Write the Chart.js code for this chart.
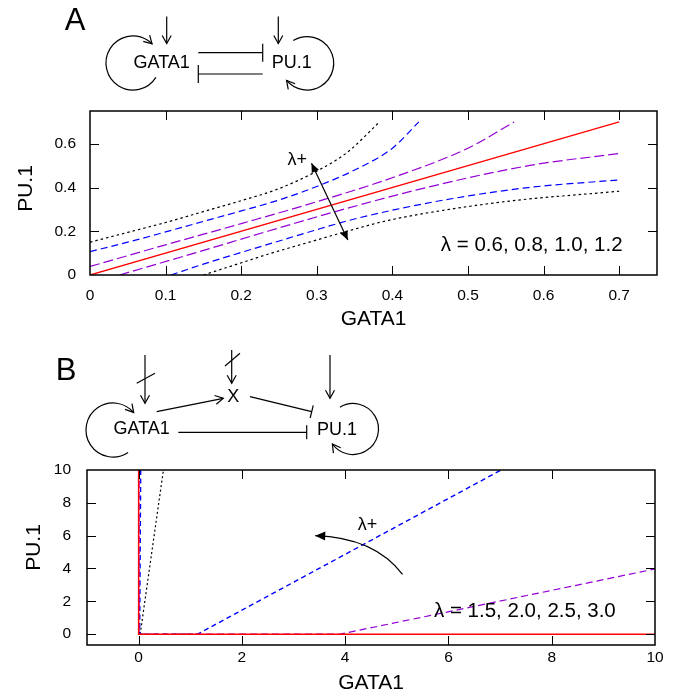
<!DOCTYPE html>
<html><head><meta charset="utf-8">
<script src="https://cdn.jsdelivr.net/npm/chart.js@4/dist/chart.umd.min.js"></script>
<style>
html,body{margin:0;padding:0;background:#fff;}
#wrap{position:relative;width:681px;height:696px;overflow:hidden;background:#fff;}
canvas{position:absolute;left:0;}
#ca{top:0;}
#cb{top:340px;}
</style></head><body>
<div id="wrap"><canvas id="ca" width="681" height="340"></canvas><canvas id="cb" width="681" height="356"></canvas></div>
<script>
// ---- Panel A: GATA1 / PU.1 curves for lambda = 0.6, 0.8, 1.0, 1.2 ----
const A_X_TICKS = [0, 0.1, 0.2, 0.3, 0.4, 0.5, 0.6, 0.7];
const A_Y_TICKS = [0, 0.2, 0.4, 0.6];

const A_RED_X = [0, 0.7];
const A_RED_Y = [0, 0.7];

const A_PURPLE_UP_X = [0, 0.1, 0.2, 0.3, 0.4, 0.5, 0.561];
const A_PURPLE_UP_Y = [0.039, 0.138, 0.235, 0.335, 0.445, 0.58, 0.70];
const A_PURPLE_LO_X = [0.039, 0.138, 0.235, 0.335, 0.445, 0.58, 0.70];
const A_PURPLE_LO_Y = [0, 0.1, 0.2, 0.3, 0.4, 0.5, 0.556];

const A_BLUE_UP_X = [0, 0.05, 0.1, 0.15, 0.2, 0.25, 0.3, 0.35, 0.4, 0.435];
const A_BLUE_UP_Y = [0.107, 0.15, 0.197, 0.245, 0.293, 0.343, 0.405, 0.48, 0.58, 0.70];
const A_BLUE_LO_X = [0.107, 0.15, 0.197, 0.245, 0.293, 0.343, 0.405, 0.48, 0.58, 0.70];
const A_BLUE_LO_Y = [0, 0.05, 0.1, 0.15, 0.2, 0.25, 0.3, 0.35, 0.4, 0.435];

const A_BLACK_UP_X = [0, 0.05, 0.1, 0.15, 0.2, 0.25, 0.3, 0.34, 0.383];
const A_BLACK_UP_Y = [0.15, 0.195, 0.24, 0.29, 0.34, 0.395, 0.475, 0.56, 0.70];
const A_BLACK_LO_X = [0.15, 0.195, 0.24, 0.29, 0.34, 0.395, 0.475, 0.56, 0.70];
const A_BLACK_LO_Y = [0, 0.05, 0.1, 0.15, 0.2, 0.25, 0.3, 0.34, 0.383];

// ---- Panel B: curves for lambda = 1.5, 2.0, 2.5, 3.0 ----
const B_X_TICKS = [0, 2, 4, 6, 8, 10];
const B_Y_TICKS = [0, 2, 4, 6, 8, 10];

const B_RED_X = [0, 0, 10];
const B_RED_Y = [10, 0, 0];
const B_PURPLE_X = [0.01, 0.01, 3.9, 10];
const B_PURPLE_Y = [10, 0, 0, 3.97];
const B_BLUE_X = [0.04, 0.02, 1.14, 7.02];
const B_BLUE_Y = [10, 0, 0, 10];
const B_BLACK_X = [0.03, 0.48];
const B_BLACK_Y = [0, 10];

const FONT = "'Liberation Sans', Arial, Helvetica, sans-serif";
const pts = (xs, ys) => xs.map((v, i) => ({x: v, y: ys[i]}));
const setTicks = arr => s => { s.ticks = arr.map(v => ({value: v})); };

function head(ctx, tx, ty, ang, len, hw, filled) {
  const bx = tx - len * Math.cos(ang), by = ty - len * Math.sin(ang);
  const nx = -Math.sin(ang) * hw, ny = Math.cos(ang) * hw;
  ctx.beginPath();
  if (filled) {
    ctx.moveTo(tx, ty); ctx.lineTo(bx + nx, by + ny); ctx.lineTo(bx - nx, by - ny);
    ctx.closePath(); ctx.fill();
  } else {
    ctx.moveTo(bx + nx, by + ny); ctx.lineTo(tx, ty); ctx.lineTo(bx - nx, by - ny);
    ctx.stroke();
  }
}
function seg(ctx, x1, y1, x2, y2) {
  ctx.beginPath(); ctx.moveTo(x1, y1); ctx.lineTo(x2, y2); ctx.stroke();
}
function arrow(ctx, x1, y1, x2, y2) {
  seg(ctx, x1, y1, x2, y2);
  head(ctx, x2, y2, Math.atan2(y2 - y1, x2 - x1), 8, 4.5, false);
}
function inhibit(ctx, x1, y1, x2, y2, half) {
  seg(ctx, x1, y1, x2, y2);
  const a = Math.atan2(y2 - y1, x2 - x1);
  const nx = -Math.sin(a) * half, ny = Math.cos(a) * half;
  seg(ctx, x2 + nx, y2 + ny, x2 - nx, y2 - ny);
}
function loop(ctx, cx, cy, r, d0, d1) {
  const a0 = d0 * Math.PI / 180, a1 = d1 * Math.PI / 180;
  ctx.beginPath(); ctx.arc(cx, cy, r, a0, a1, false); ctx.stroke();
  head(ctx, cx + r * Math.cos(a1), cy + r * Math.sin(a1), a1 + Math.PI / 2, 8, 4.5, false);
}
function label(ctx, txt, x, y, size, align) {
  ctx.font = size + 'px ' + FONT;
  ctx.textAlign = align || 'center';
  ctx.textBaseline = 'middle';
  ctx.fillText(txt, x, y);
}
function vlabel(ctx, txt, x, y, size) {
  ctx.save();
  ctx.translate(x, y);
  ctx.rotate(-Math.PI / 2);
  label(ctx, txt, 0, 0, size);
  ctx.restore();
}

// frame with inward ticks on all four sides
const frame = {
  id: 'frame',
  afterDatasetsDraw(chart) {
    const {ctx, chartArea: a, scales: {x, y}} = chart;
    const L = 9;
    ctx.save();
    ctx.strokeStyle = '#000';
    ctx.lineWidth = 1;
    ctx.beginPath();
    x.ticks.forEach(t => {
      const p = Math.round(x.getPixelForValue(t.value)) + 0.5;
      if (p > a.left + 2 && p < a.right - 2) {
        ctx.moveTo(p, a.bottom); ctx.lineTo(p, a.bottom - L);
        ctx.moveTo(p, a.top); ctx.lineTo(p, a.top + L);
      }
    });
    y.ticks.forEach(t => {
      const p = Math.round(y.getPixelForValue(t.value)) + 0.5;
      if (p > a.top + 2 && p < a.bottom - 2) {
        ctx.moveTo(a.left, p); ctx.lineTo(a.left + L, p);
        ctx.moveTo(a.right, p); ctx.lineTo(a.right - L, p);
      }
    });
    ctx.stroke();
    ctx.lineWidth = 1.5;
    ctx.strokeRect(a.left, a.top, a.right - a.left, a.bottom - a.top);
    ctx.restore();
  }
};

const lineDefaults = {showLine: true, pointRadius: 0, fill: false, borderWidth: 1.2};

function axisCfg(min, max, tickArr, size, tickPad, title, titlePad) {
  return {
    type: 'linear', min: min, max: max,
    afterBuildTicks: setTicks(tickArr),
    afterFit: s => { if (s.isHorizontal()) s.height = size; else s.width = size; },
    grid: {display: false, drawTicks: false}, border: {display: false},
    ticks: {padding: tickPad, color: '#000', autoSkip: false, maxRotation: 0,
            font: {family: FONT, size: 15.5}, callback: v => String(v)},
    title: {display: !!title, text: title || '', color: '#000', font: {family: FONT, size: 21}, padding: titlePad}
  };
}

// ---- chart A ----
const annotA = {
  id: 'annotA',
  afterDatasetsDraw(chart) {
    const {ctx, scales: {x, y}} = chart;
    ctx.save();
    ctx.fillStyle = '#000'; ctx.strokeStyle = '#000'; ctx.lineWidth = 1.2;
    vlabel(ctx, 'PU.1', 26.7, 188.5, 21);
    // double arrow
    const x1 = x.getPixelForValue(0.293), y1 = y.getPixelForValue(0.511);
    const x2 = x.getPixelForValue(0.341), y2 = y.getPixelForValue(0.160);
    seg(ctx, x1, y1, x2, y2);
    head(ctx, x1, y1, Math.atan2(y1 - y2, x1 - x2), 9, 4, true);
    head(ctx, x2, y2, Math.atan2(y2 - y1, x2 - x1), 9, 4, true);
    label(ctx, 'λ+', x.getPixelForValue(0.274), y.getPixelForValue(0.528), 18);
    label(ctx, 'λ = 0.6, 0.8, 1.0, 1.2', x.getPixelForValue(0.464), y.getPixelForValue(0.134), 20.5, 'left');

    // network diagram
    label(ctx, 'A', 75, 21, 31);
    label(ctx, 'GATA1', 161.7, 63, 18);
    label(ctx, 'PU.1', 291.7, 63.5, 18);
    arrow(ctx, 166.7, 16.5, 166.7, 43.5);
    arrow(ctx, 278.3, 16.5, 278.3, 43.5);
    inhibit(ctx, 198.3, 52.7, 262.7, 52.7, 9);
    inhibit(ctx, 262.7, 74, 198.3, 74, 9);
    loop(ctx, 133, 63, 27, 32, 315);
    loop(ctx, 307, 63.3, 26.7, 239, 500);
    ctx.restore();
  }
};

new Chart(document.getElementById('ca'), {
  type: 'scatter',
  data: {datasets: [
    Object.assign({}, lineDefaults, {data: pts(A_RED_X, A_RED_Y), borderColor: '#ff0000', borderWidth: 1.3}),
    Object.assign({}, lineDefaults, {data: pts(A_PURPLE_UP_X, A_PURPLE_UP_Y), borderColor: '#9400d3', borderDash: [10, 4], cubicInterpolationMode: 'monotone'}),
    Object.assign({}, lineDefaults, {data: pts(A_PURPLE_LO_X, A_PURPLE_LO_Y), borderColor: '#9400d3', borderDash: [10, 4], cubicInterpolationMode: 'monotone'}),
    Object.assign({}, lineDefaults, {data: pts(A_BLUE_UP_X, A_BLUE_UP_Y), borderColor: '#0000ff', borderDash: [7, 4], cubicInterpolationMode: 'monotone'}),
    Object.assign({}, lineDefaults, {data: pts(A_BLUE_LO_X, A_BLUE_LO_Y), borderColor: '#0000ff', borderDash: [7, 4], cubicInterpolationMode: 'monotone'}),
    Object.assign({}, lineDefaults, {data: pts(A_BLACK_UP_X, A_BLACK_UP_Y), borderColor: '#000000', borderDash: [2.5, 3], cubicInterpolationMode: 'monotone'}),
    Object.assign({}, lineDefaults, {data: pts(A_BLACK_LO_X, A_BLACK_LO_Y), borderColor: '#000000', borderDash: [2.5, 3], cubicInterpolationMode: 'monotone'})
  ]},
  options: {
    responsive: false, animation: false, devicePixelRatio: 1, events: [],
    layout: {padding: {top: 111, right: 24, left: 0, bottom: 0}},
    plugins: {legend: {display: false}, tooltip: {enabled: false}},
    scales: {
      x: axisCfg(0, 0.75, A_X_TICKS, 65, 11.7, 'GATA1', {top: 0, bottom: 8}),
      y: axisCfg(0, 0.75, A_Y_TICKS, 90, 14, null, 0)
    }
  },
  plugins: [frame, annotA]
});

// ---- chart B ----
const annotB = {
  id: 'annotB',
  afterDatasetsDraw(chart) {
    const {ctx, scales: {x, y}} = chart;
    ctx.save();
    ctx.fillStyle = '#000'; ctx.strokeStyle = '#000'; ctx.lineWidth = 1.2;
    vlabel(ctx, 'PU.1', 34, 207.5, 21);
    // curved arrow
    const sx = x.getPixelForValue(5.11), sy = y.getPixelForValue(3.64);
    const cx = x.getPixelForValue(4.57), cy = y.getPixelForValue(5.88);
    const ex = x.getPixelForValue(3.42), ey = y.getPixelForValue(6.0);
    ctx.beginPath(); ctx.moveTo(sx, sy); ctx.quadraticCurveTo(cx, cy, ex, ey); ctx.stroke();
    head(ctx, ex, ey, Math.atan2(ey - cy, ex - cx), 10, 4.5, true);
    label(ctx, 'λ+', x.getPixelForValue(4.43), y.getPixelForValue(6.67), 18);
    label(ctx, 'λ = 1.5, 2.0, 2.5, 3.0', x.getPixelForValue(5.72), y.getPixelForValue(1.39), 20.5, 'left');

    // network diagram (canvas offset 340 px from page top)
    ctx.translate(0, -340);
    label(ctx, 'B', 66, 371, 31);
    label(ctx, 'GATA1', 141.7, 429, 18);
    label(ctx, 'X', 233.3, 397.5, 18);
    label(ctx, 'PU.1', 337, 430, 18);
    arrow(ctx, 145, 355, 145, 403.3);
    seg(ctx, 136.7, 383.3, 155, 373.3);
    arrow(ctx, 231.7, 350, 231.7, 383.3);
    seg(ctx, 225, 366, 240, 353.3);
    arrow(ctx, 330, 355, 330, 398.3);
    arrow(ctx, 156.7, 411.7, 223.3, 398.3);
    inhibit(ctx, 250, 396.7, 311.7, 411.7, 6.5);
    inhibit(ctx, 178.3, 432.3, 306.7, 432.3, 7);
    loop(ctx, 113, 430, 27, 56, 320);
    loop(ctx, 353, 429, 25.5, 239, 504);
    ctx.restore();
  }
};

new Chart(document.getElementById('cb'), {
  type: 'scatter',
  data: {datasets: [
    Object.assign({}, lineDefaults, {data: pts(B_RED_X, B_RED_Y), borderColor: '#ff0000', borderWidth: 1.5}),
    Object.assign({}, lineDefaults, {data: pts(B_PURPLE_X, B_PURPLE_Y), borderColor: '#9400d3', borderDash: [7, 4]}),
    Object.assign({}, lineDefaults, {data: pts(B_BLUE_X, B_BLUE_Y), borderColor: '#0000ff', borderDash: [5, 3.5], borderWidth: 1.4}),
    Object.assign({}, lineDefaults, {data: pts(B_BLACK_X, B_BLACK_Y), borderColor: '#000000', borderDash: [2, 2.5]})
  ]},
  options: {
    responsive: false, animation: false, devicePixelRatio: 1, events: [],
    layout: {padding: {top: 130, right: 26, left: 0, bottom: 0}},
    plugins: {legend: {display: false}, tooltip: {enabled: false}},
    scales: {
      x: axisCfg(-1, 10, B_X_TICKS, 51, 3.7, 'GATA1', {top: 0, bottom: 0.5}),
      y: axisCfg(-0.66, 10, B_Y_TICKS, 87, 16, null, 0)
    }
  },
  plugins: [frame, annotB]
});
</script>
</body></html>
